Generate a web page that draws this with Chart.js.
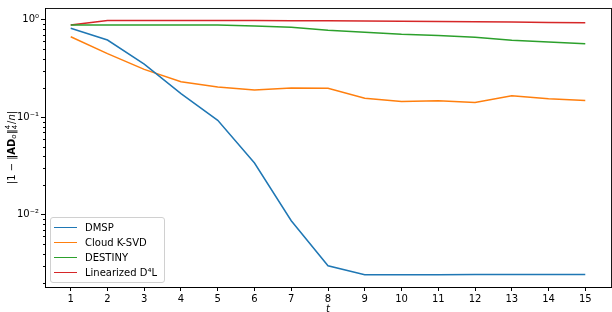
<!DOCTYPE html>
<html>
<head>
<meta charset="utf-8">
<script src="https://cdn.jsdelivr.net/npm/chart.js@4.4.1/dist/chart.umd.min.js"></script>
<style>
  html, body { margin: 0; padding: 0; background: #fff; }
  #wrap { position: relative; width: 612px; height: 312px; }
  #legend {
    position: absolute; left: 50px; top: 217px; width: 115px; height: 66px;
    border: 1px solid #d0d0d0; border-radius: 3px; background: rgba(255,255,255,.85);
    font: 10px "DejaVu Sans", sans-serif; color: #000; box-sizing: border-box; padding-top: 2px;
  }
  #legend .row { height: 15px; display: flex; align-items: center; }
  #legend .sw { display: inline-block; width: 23px; height: 1.5px; margin: 0 8px 0 3px; }
</style>
</head>
<body>
<div id="wrap">
  <canvas id="c" width="612" height="312"></canvas>
  <div id="legend"></div>
</div>
<script>
// Konvergenskurver, verdier lest av figuren.
const tVals = [1, 2, 3, 4, 5, 6, 7, 8, 9, 10, 11, 12, 13, 14, 15];
const dmsp = [0.82, 0.62, 0.35, 0.175, 0.093, 0.034, 0.0087, 0.0030, 0.00243, 0.00243, 0.00243, 0.00244, 0.00244, 0.00244, 0.00244];
const cloudKsvd = [0.67, 0.45, 0.31, 0.232, 0.205, 0.19, 0.20, 0.198, 0.157, 0.145, 0.148, 0.142, 0.166, 0.155, 0.149];
const destiny = [0.885, 0.885, 0.885, 0.885, 0.885, 0.865, 0.84, 0.78, 0.746, 0.71, 0.69, 0.66, 0.617, 0.59, 0.566];
const linD4L = [0.885, 0.985, 0.985, 0.985, 0.985, 0.98, 0.977, 0.975, 0.97, 0.965, 0.96, 0.955, 0.95, 0.94, 0.933];

const seriesNames = ["DMSP", "Cloud K-SVD", "DESTINY", "Linearized D⁴L"];
const seriesColors = ["#1f77b4", "#ff7f0e", "#2ca02c", "#d62728"];
const yMajor = [0.01, 0.1, 1];
const yTickText = { 0.01: "10⁻²", 0.1: "10⁻¹", 1: "10⁰" };

const FONT = '"DejaVu Sans", sans-serif';

const toPts = (arr) => tVals.map((t, i) => ({ x: t, y: arr[i] }));

// Ramme rundt plottet + små ticks på log-aksen
const framePlugin = {
  id: "frame",
  afterDraw(chart) {
    const { ctx, chartArea: a, scales } = chart;
    const y = scales.y;
    ctx.save();
    ctx.strokeStyle = "#000";
    ctx.lineWidth = 1;
    for (let k = -3; k <= 0; k++) {
      for (let m = 2; m <= 9; m++) {
        const v = m * Math.pow(10, k);
        if (v < y.min || v > y.max) continue;
        const py = Math.round(y.getPixelForValue(v)) + 0.5;
        ctx.beginPath(); ctx.moveTo(a.left - 2, py); ctx.lineTo(a.left, py); ctx.stroke();
      }
    }
    ctx.lineWidth = 0.9;
    ctx.strokeRect(Math.round(a.left) + 0.5, Math.round(a.top) + 0.5,
      Math.round(a.right - a.left), Math.round(a.bottom - a.top));
    ctx.restore();
  },
};

// y-aksetittel med blandet skrift (|1 − ‖AD_o‖⁴₄/n|)
const yTitlePlugin = {
  id: "ytitle",
  afterDraw(chart) {
    const { ctx, chartArea: a } = chart;
    const segs = [
      { t: "|1 − ‖", f: `10px ${FONT}`, dy: 0 },
      { t: "AD", f: `bold 10px ${FONT}`, dy: 0 },
      { t: "o", f: `italic 7px ${FONT}`, dy: 2 },
      { t: "‖", f: `10px ${FONT}`, dy: 0 },
      { t: "4", f: `7px ${FONT}`, dy: -4, stack: { t: "4", dy: 3 } },
      { t: "/", f: `10px ${FONT}`, dy: 0 },
      { t: "n", f: `italic 10px ${FONT}`, dy: 0 },
      { t: "|", f: `10px ${FONT}`, dy: 0 },
    ];
    ctx.save();
    let total = 0;
    segs.forEach((s) => { ctx.font = s.f; s.w = ctx.measureText(s.t).width + (s.stack ? 1 : 0); total += s.w; });
    ctx.translate(12, (a.top + a.bottom) / 2);
    ctx.rotate(-Math.PI / 2);
    ctx.fillStyle = "#000";
    ctx.textBaseline = "middle";
    let x = -total / 2;
    segs.forEach((s) => {
      ctx.font = s.f;
      ctx.fillText(s.t, x, s.dy);
      if (s.stack) ctx.fillText(s.stack.t, x, s.stack.dy);
      x += s.w;
    });
    ctx.restore();
  },
};

new Chart(document.getElementById("c"), {
  type: "line",
  data: {
    datasets: [dmsp, cloudKsvd, destiny, linD4L].map((arr, i) => ({
      label: seriesNames[i], data: toPts(arr),
      borderColor: seriesColors[i], backgroundColor: seriesColors[i],
      borderWidth: 1.5, pointRadius: 0, tension: 0,
    })),
  },
  options: {
    responsive: false, animation: false,
    layout: { padding: { top: 1, right: 1, left: 0, bottom: 0 } },
    plugins: { legend: { display: false }, tooltip: { enabled: false } },
    scales: {
      x: {
        type: "linear", min: 0.3, max: 15.7,
        afterBuildTicks: (s) => { s.ticks = tVals.map((v) => ({ value: v })); },
        grid: { drawOnChartArea: false, tickLength: 4, color: "#000" },
        border: { color: "#000" },
        ticks: { color: "#000", font: { family: FONT, size: 10 }, padding: 2, maxRotation: 0, autoSkip: false },
        title: { display: true, text: "t", color: "#000", font: { family: FONT, size: 10, style: "italic" }, padding: { top: 0, bottom: -3 } },
        afterFit: (s) => { s.height = 25; },
      },
      y: {
        type: "logarithmic", min: 0.00182, max: 1.32,
        afterBuildTicks: (s) => { s.ticks = yMajor.map((v) => ({ value: v })); },
        grid: { drawOnChartArea: false, tickLength: 4, color: "#000" },
        border: { color: "#000" },
        ticks: { color: "#000", font: { family: FONT, size: 10 }, padding: 2, callback: (v) => yTickText[v] || "" },
        afterFit: (s) => { s.width = 45; },
      },
    },
  },
  plugins: [framePlugin, yTitlePlugin],
});

document.getElementById("legend").innerHTML = seriesNames
  .map((n, i) => `<div class="row"><span class="sw" style="background:${seriesColors[i]}"></span>${n}</div>`)
  .join("");
</script>
</body>
</html>
